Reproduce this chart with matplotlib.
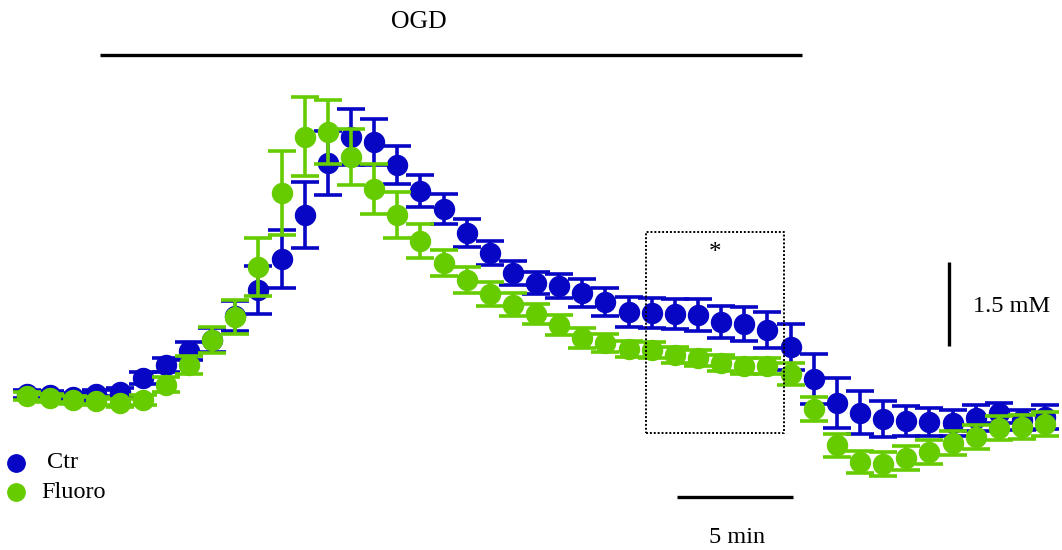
import numpy as np
import matplotlib
matplotlib.use("Agg")
import matplotlib.pyplot as plt

plt.rcParams['font.family'] = ['Liberation Serif', 'DejaVu Serif']

# time in minutes, one point per minute
minutes = np.arange(45)

# extracellular concentration change (mM) relative to baseline
ctr_mean = [0.04, 0.02, -0.02, 0.04, 0.07, 0.32, 0.55, 0.80, 1.00, 1.43,
            1.89, 2.45, 3.23, 4.16, 4.63, 4.54, 4.13, 3.66, 3.34, 2.91,
            2.55, 2.20, 2.02, 1.96, 1.84, 1.68, 1.50, 1.48, 1.46, 1.45,
            1.32, 1.29, 1.18, 0.88, 0.30, -0.13, -0.30, -0.41, -0.45, -0.46,
            -0.48, -0.39, -0.30, -0.43, -0.38]
ctr_sem = [0.07, 0.07, 0.07, 0.07, 0.07, 0.11, 0.13, 0.16, 0.21, 0.27,
           0.43, 0.52, 0.59, 0.57, 0.50, 0.41, 0.34, 0.29, 0.27, 0.25,
           0.21, 0.21, 0.20, 0.21, 0.25, 0.25, 0.27, 0.27, 0.27, 0.29,
           0.29, 0.30, 0.32, 0.41, 0.45, 0.45, 0.38, 0.32, 0.27, 0.25,
           0.23, 0.23, 0.18, 0.18, 0.21]

fluoro_mean = [0.00, -0.04, -0.07, -0.09, -0.13, -0.07, 0.20, 0.55, 1.00, 1.41,
               2.30, 3.63, 4.63, 4.71, 4.27, 3.70, 3.23, 2.77, 2.38, 2.07,
               1.82, 1.63, 1.46, 1.27, 1.04, 0.95, 0.84, 0.82, 0.73, 0.68,
               0.59, 0.54, 0.54, 0.39, -0.23, -0.88, -1.18, -1.21, -1.11, -1.00,
               -0.84, -0.73, -0.57, -0.55, -0.50]
fluoro_sem = [0.07, 0.07, 0.07, 0.07, 0.07, 0.09, 0.13, 0.16, 0.23, 0.30,
              0.52, 0.75, 0.71, 0.57, 0.50, 0.45, 0.41, 0.30, 0.23, 0.23,
              0.21, 0.20, 0.18, 0.18, 0.18, 0.16, 0.14, 0.14, 0.14, 0.14,
              0.14, 0.14, 0.14, 0.20, 0.21, 0.21, 0.20, 0.21, 0.21, 0.21,
              0.21, 0.21, 0.21, 0.21, 0.21]

# annotations (minutes / mM)
ogd_start, ogd_end, ogd_level = 3.15, 33.5, 6.09
box_t0, box_t1, box_lo, box_hi = 26.75, 32.71, -0.66, 2.93
time_bar = (28.1, 33.1, -1.80)          # 5 min
conc_bar = (39.85, 0.89, 0.89 + 1.5)    # 1.5 mM

blue = '#0606C4'
green = '#66CC00'

fig = plt.figure(figsize=(10.62, 5.5), dpi=100)
ax = fig.add_axes([0, 0, 1, 1])
ax.set_xlim(-1.167, 44.73)
ax.set_ylim(-2.75, 7.07)
ax.axis('off')

style = dict(fmt='o', markersize=14.4, elinewidth=2.6, capsize=10, capthick=2.6)
ax.errorbar(minutes, ctr_mean, yerr=ctr_sem, color=blue, zorder=3, **style)
ax.errorbar(minutes, fluoro_mean, yerr=fluoro_sem, color=green, zorder=4, **style)

# OGD period
ax.plot([ogd_start, ogd_end], [ogd_level, ogd_level], color='black', lw=2.4,
        solid_capstyle='butt')
ax.text((ogd_start + ogd_end) / 2 - 1.4, 6.68, 'OGD', fontsize=18.5,
        ha='center', va='center')

# dotted box with star
ax.plot([box_t0, box_t1, box_t1, box_t0, box_t0],
        [box_lo, box_lo, box_hi, box_hi, box_lo],
        color='black', lw=1.4, ls=(0, (1, 1)), zorder=5)
ax.text((box_t0 + box_t1) / 2, 2.55, '*', fontsize=18, ha='center', va='center')

# scale bars
ax.plot([time_bar[0], time_bar[1]], [time_bar[2], time_bar[2]],
        color='black', lw=2.4, solid_capstyle='butt')
ax.text((time_bar[0] + time_bar[1]) / 2 + 0.1, -2.52, '5 min', fontsize=17.5,
        ha='center', va='center')
ax.plot([conc_bar[0], conc_bar[0]], [conc_bar[1], conc_bar[2]],
        color='black', lw=2.4, solid_capstyle='butt')
ax.text(conc_bar[0] + 1.05, (conc_bar[1] + conc_bar[2]) / 2 - 0.05, '1.5 mM',
        fontsize=17.5, ha='left', va='center')

# legend
for yy, col, lab, tx in [(1 - 463 / 550, blue, 'Ctr', 47), (1 - 492 / 550, green, 'Fluoro', 41)]:
    ax.plot([16 / 1062], [yy], 'o', color=col, markersize=12.5,
            transform=ax.transAxes, clip_on=False)
    ax.text(tx / 1062, yy, lab, fontsize=17.5, ha='left', va='center',
            transform=ax.transAxes)

fig.savefig('out.png', dpi=100)
